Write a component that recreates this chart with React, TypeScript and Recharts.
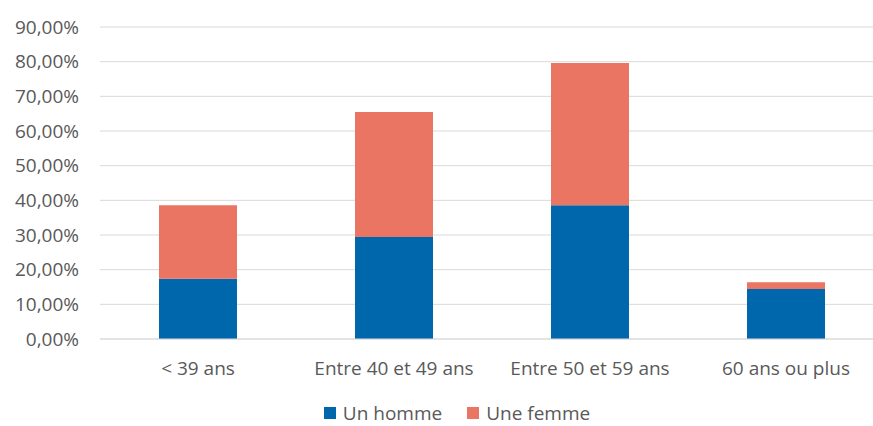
import React from 'react';
import { BarChart, Bar, XAxis, YAxis, CartesianGrid, Legend } from 'recharts';

const categories = ['< 39 ans', 'Entre 40 et 49 ans', 'Entre 50 et 59 ans', '60 ans ou plus'];
const hommeValues = [0.174, 0.294, 0.386, 0.144];
const femmeValues = [0.212, 0.361, 0.410, 0.020];
const yTicks = [0, 0.1, 0.2, 0.3, 0.4, 0.5, 0.6, 0.7, 0.8, 0.9];

const data = categories.map((name, i) => ({
  name,
  homme: hommeValues[i],
  femme: femmeValues[i]
}));

const FONT = '"Open Sans", sans-serif';
const TEXT = '#595959';

const formatPct = (v: number) => `${(v * 100).toFixed(2).replace('.', ',')}%`;

// legend drawn by hand so it sits where the original puts it
// eslint-disable-next-line @typescript-eslint/no-explicit-any
const renderLegend = (props: any) => {
  const { payload } = props;
  return (
    <div style={{ display: 'flex', justifyContent: 'center', paddingTop: 11, paddingLeft: 30 }}>
      {payload.map((entry: { color: string; value: string }, index: number) => (
        <div
          key={`leg-${index}`}
          style={{ display: 'flex', alignItems: 'center', marginRight: index === 0 ? 25 : 0 }}
        >
          <span style={{ width: 12, height: 12, background: entry.color, marginRight: 7, display: 'inline-block' }} />
          <span style={{ fontFamily: FONT, fontSize: 19, color: TEXT, lineHeight: '26px' }}>{entry.value}</span>
        </div>
      ))}
    </div>
  );
};

const App: React.FC = () => {
  return (
    <div style={{ position: 'fixed', left: 0, top: 0, width: 873, height: 426, overflow: 'hidden', background: '#fff' }}>
      <BarChart
        width={884}
        height={426}
        data={data}
        margin={{ top: 27, right: 0, left: 0, bottom: 0 }}
        barSize={78}
      >
        <CartesianGrid vertical={false} stroke="#D9D9D9" />
        <XAxis
          dataKey="name"
          tickLine={false}
          tickSize={0}
          tickMargin={23}
          height={50}
          axisLine={{ stroke: '#D9D9D9' }}
          tick={{ fontFamily: FONT, fontSize: 19, fill: TEXT }}
          interval={0}
        />
        <YAxis
          width={100}
          domain={[0, 0.9]}
          ticks={yTicks}
          tickFormatter={formatPct}
          axisLine={false}
          tickLine={false}
          tickSize={0}
          tickMargin={21}
          tick={{ fontFamily: FONT, fontSize: 19, fill: TEXT }}
        />
        <Legend
          verticalAlign="bottom"
          content={renderLegend}
          wrapperStyle={{ height: 37 }}
        />
        <Bar dataKey="homme" name="Un homme" stackId="a" fill="#0067AC" isAnimationActive={false} />
        <Bar dataKey="femme" name="Une femme" stackId="a" fill="#EB7563" isAnimationActive={false} />
      </BarChart>
    </div>
  );
};

export default App;
